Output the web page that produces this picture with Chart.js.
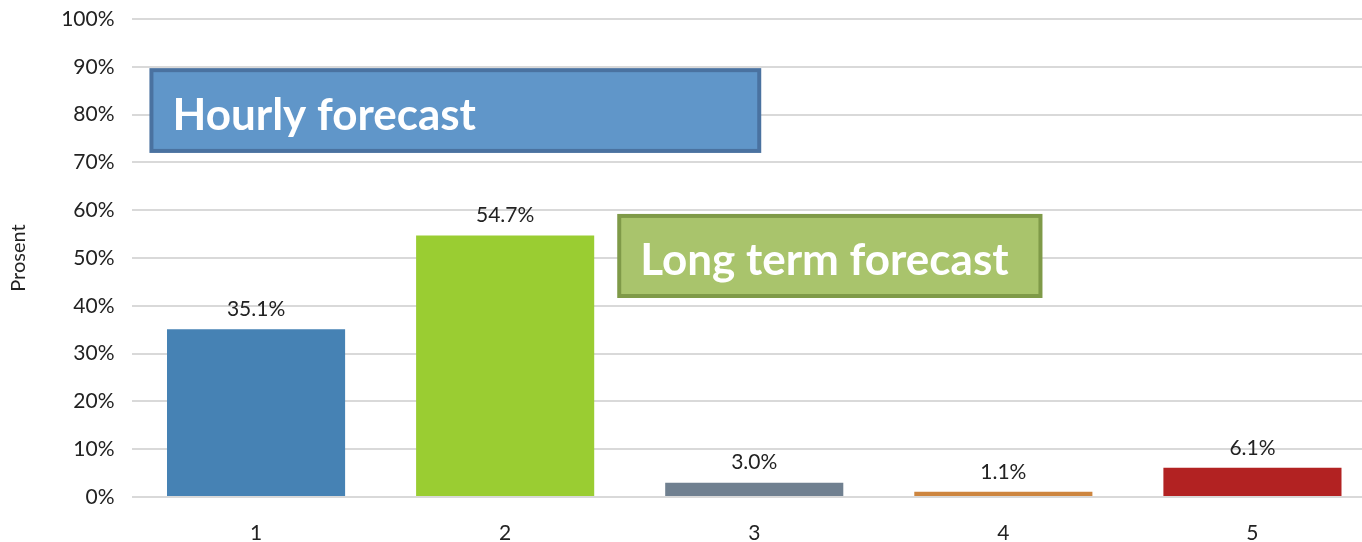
<!DOCTYPE html>
<html>
<head>
<meta charset="utf-8">
<script src="https://cdn.jsdelivr.net/npm/chart.js@4"></script>
<style>
  html, body { margin: 0; padding: 0; background: #fff; overflow: hidden; }
  #wrap { width: 1377px; height: 542px; }
</style>
</head>
<body>
<div id="wrap"><canvas id="myChart" width="1377" height="542"></canvas></div>
<script>
const categories = ['1', '2', '3', '4', '5'];
const shares = [35.1, 54.7, 3.0, 1.1, 6.1];
const barColors = ['#4682b4', '#9acd32', '#708090', '#cd853f', '#b22222'];
const yTicks = [0, 10, 20, 30, 40, 50, 60, 70, 80, 90, 100];

// text boxes: x in category units, y in percent
const notes = [
    { text: 'Hourly forecast', x0: -0.42, x1: 2.02, y0: 89.3, y1: 72.4, fill: '#6096c9', border: '#4a72a0', size: 44 },
    { text: 'Long term forecast', x0: 1.458, x1: 3.149, y0: 58.8, y1: 42.05, fill: '#a9c46c', border: '#7f9a48', size: 44 }
];

const FONT = 'Lato, "Open Sans", sans-serif';

const valueLabels = {
    id: 'valueLabels',
    afterDatasetsDraw(chart) {
        const ctx = chart.ctx;
        const meta = chart.getDatasetMeta(0);
        ctx.save();
        ctx.font = '21px ' + FONT;
        ctx.fillStyle = '#222';
        ctx.textAlign = 'center';
        ctx.textBaseline = 'middle';
        meta.data.forEach((bar, i) => {
            ctx.fillText(shares[i].toFixed(1) + '%', bar.x, bar.y - 20);
        });
        ctx.restore();
    }
};

const noteBoxes = {
    id: 'noteBoxes',
    afterDatasetsDraw(chart) {
        const ctx = chart.ctx;
        const xs = chart.scales.x, ys = chart.scales.y;
        ctx.save();
        notes.forEach(n => {
            const left = xs.getPixelForValue(n.x0);
            const right = xs.getPixelForValue(n.x1);
            const top = ys.getPixelForValue(n.y0);
            const bottom = ys.getPixelForValue(n.y1);
            ctx.fillStyle = n.fill;
            ctx.fillRect(left, top, right - left, bottom - top);
            ctx.strokeStyle = n.border;
            ctx.lineWidth = 4;
            ctx.strokeRect(left, top, right - left, bottom - top);
            ctx.fillStyle = '#fff';
            ctx.font = 'bold ' + n.size + 'px ' + FONT;
            ctx.textAlign = 'left';
            ctx.textBaseline = 'middle';
            ctx.fillText(n.text, left + 21, (top + bottom) / 2 + 5);
        });
        ctx.restore();
    }
};

const ctx = document.getElementById('myChart').getContext('2d');
const myChart = new Chart(ctx, {
    type: 'bar',
    data: {
        labels: categories,
        datasets: [{
            data: shares,
            backgroundColor: barColors,
            borderWidth: 0,
            barPercentage: 0.715,
            categoryPercentage: 1
        }]
    },
    options: {
        responsive: false,
        animation: false,
        layout: { padding: { top: 19, left: 0, right: 0, bottom: 0 } },
        plugins: {
            legend: { display: false },
            tooltip: { enabled: false }
        },
        scales: {
            x: {
                grid: { display: false },
                border: { display: false },
                ticks: { color: '#222', font: { size: 21, family: FONT }, padding: 16 },
                afterFit(scale) { scale.height = 45; scale.paddingLeft = 0; scale.paddingRight = 0; }
            },
            y: {
                min: 0,
                max: 100,
                afterBuildTicks(scale) { scale.ticks = yTicks.map(v => ({ value: v })); },
                grid: { color: '#d9d9d9', lineWidth: 2, drawTicks: false },
                border: { display: false },
                ticks: {
                    color: '#222',
                    font: { size: 21, family: FONT },
                    padding: 17,
                    callback: v => v + '%'
                },
                title: { display: true, text: 'Prosent', color: '#222', font: { size: 20, family: FONT }, padding: { top: 7, bottom: 0 } },
                afterFit(scale) { scale.width = 131.5; scale.paddingTop = 0; scale.paddingBottom = 0; }
            }
        }
    },
    plugins: [valueLabels, noteBoxes]
});
</script>
</body>
</html>
